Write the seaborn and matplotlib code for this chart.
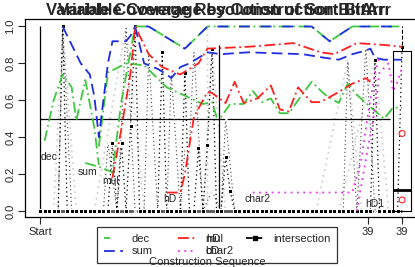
import numpy as np
import seaborn as sns
import matplotlib
matplotlib.use("Agg")
import matplotlib.pyplot as plt
from matplotlib.lines import Line2D
from matplotlib.legend_handler import HandlerTuple

# ---- data (sequence step, coverage value) ----
top_x = [21, 24, 32, 37, 60, 64, 69, 80]
top_v = [1.0, 1.0, 0.88, 1.0, 1.0, 0.92, 1.0, 1.0]

dec_a_x = [1, 3, 5, 7, 8, 10, 12, 13]
dec_a_v = [0.38, 0.6, 0.74, 0.67, 0.49, 0.71, 0.45, 0.25]
dec_b_x = [10, 13, 16, 18, 21]
dec_b_v = [0.26, 0.24, 0.21, 0.6, 1.0]
dec_c_x = [13, 15, 19, 23, 28, 36, 38, 39, 40, 42, 45, 47, 49, 51, 53, 55, 57, 60, 63, 66, 68, 70, 72, 76, 78, 80]
dec_c_v = [0.35, 0.75, 0.8, 0.79, 0.67, 0.58, 0.59, 0.51, 0.51, 0.58, 0.58, 0.65, 0.59, 0.61, 0.53, 0.53, 0.60,
           0.70, 0.63, 0.585, 0.69, 0.63, 0.585, 0.50, 0.56, 0.56]

sum_a_x = [5, 9, 11, 12, 13, 14, 15, 16, 19, 20, 21]
sum_a_v = [1.0, 0.8, 0.74, 0.62, 0.40, 0.6, 0.8, 0.92, 0.92, 0.95, 1.0]
sum_b_x = [21, 23, 26, 28, 29, 31, 33, 35, 37, 40, 46, 52, 58, 63, 66, 69, 72, 73, 74, 76, 80]
sum_b_v = [1.0, 0.80, 0.77, 0.74, 0.72, 0.78, 0.80, 0.83, 0.86, 0.85, 0.86, 0.855, 0.85, 0.83, 0.82, 0.85,
           0.87, 0.88, 0.83, 0.82, 0.82]

hd_a_x = [16, 18, 20, 21, 22, 24, 27, 31, 35, 37, 46, 56, 62, 65, 70, 76, 80]
hd_a_v = [0.18, 0.45, 0.75, 1.0, 0.95, 0.85, 0.78, 0.74, 0.8, 0.88, 0.89, 0.91, 0.86, 0.85, 0.91, 0.90, 0.89]
hd_b_x = [28, 31, 32, 34, 36, 37, 38, 41, 43, 45, 48, 51, 53, 55, 57, 60, 62, 66, 69, 72, 73]
hd_b_v = [0.1, 0.1, 0.2, 0.51, 0.6, 0.645, 0.64, 0.585, 0.70, 0.585, 0.61, 0.68, 0.55, 0.54, 0.67, 0.59, 0.59,
          0.645, 0.69, 0.72, 0.70]

bd_a_x = [47, 56, 63, 69, 71, 72, 74, 75]
bd_a_v = [0.1, 0.1, 0.1, 0.1, 0.28, 0.45, 0.75, 0.83]
bd_b_x = [70, 72, 74, 75, 77, 78, 79, 80]
bd_b_v = [0.0, 0.28, 0.55, 0.75, 0.8, 0.65, 0.7, 0.78]

steps = list(range(81))
inter_v = [0.0] * 81
for k, val in {5: 1.0, 16: 0.37, 18: 0.37, 20: 0.46, 21: 1.0, 27: 0.86, 32: 0.75, 35: 0.34,
               37: 0.36, 38: 0.88, 41: 0.29, 42: 0.11, 74: 0.82, 80: 0.89}.items():
    inter_v[k] = val

cross_x = [0, 2, 4, 5, 7, 9, 11, 14, 15, 17, 18, 19, 21, 23, 24, 26, 28, 29, 31, 32, 33, 34, 36, 38, 40, 41,
           43, 46, 50, 54, 58, 62, 66, 67, 68, 70, 72, 74, 77, 79]
cross_v = [0, 0, 0, 1.0, 0, 0, 0, 0, 0.37, 0, 0.455, 1.0, 0, 0, 0.86, 0, 0, 0.75, 0, 0.34, 0.35, 0.87, 0,
           0.11, 0, 0.5, 0, 0, 0, 0, 0, 0, 0, 0, 0.82, 0, 0.89, 0, 0, 0]

gray_x = [3, 5, 8, np.nan, 12, 19, 23, np.nan, 37, 37, np.nan, 36, 38, 41, np.nan, 66, 74, 77, np.nan, 61, 68, 71]
gray_v = [0, 1.0, 0, np.nan, 0, 1.0, 0, np.nan, 0, 1.0, np.nan, 0, 0.88, 0, np.nan, 0, 0.82, 0, np.nan, 0, 0.82, 0]

box_stats = [dict(whislo=0.0, q1=0.0, med=0.114, q3=0.867, whishi=1.0)]
box_marks = [0.42, 0.06]

labels = [("dec", 0.2, 0.29), ("sum", 8.4, 0.21), ("mul", 13.8, 0.16), ("hD", 27.3, 0.065),
          ("char2", 45.1, 0.065), ("hD1", 71.8, 0.038)]
tick_pos = [0, 72.4, 80]
tick_lab = ["Start", "39", "39"]
legend_labels = ["dec", "sum", "hD", "bD", "intersection"]
legend_overlay = {2: "mul", 3: "char2"}

# ---- plot ----
sns.set_style("ticks")
plt.rcParams['font.family'] = ['Liberation Sans', 'DejaVu Sans']

fig = plt.figure(figsize=(4.15, 2.67), dpi=100)
ax = fig.add_axes([0.0602, 0.1873, 0.945, 0.7416])

GREEN, BLUE, RED, MAG = "#3fc83f", "#1f2fe0", "#ff2020", "#ee33ee"
dashdot = (0, (6, 2, 1, 2))
dash = (0, (6, 3))
dot = (0, (1, 2.5))

ax.plot(gray_x, gray_v, color="#cccccc", lw=1.2, ls=dot, zorder=1)
ax.hlines(0, 0, 80, color="#555555", lw=2, zorder=1)
ax.hlines(0.5, 0, 77.3, color="black", lw=0.9)
ax.vlines(0, 0, 1.0, color="black", lw=0.9)
ax.vlines(39.5, 0, 0.9, color="black", lw=0.9)

sns.lineplot(x=cross_x, y=cross_v, sort=False, estimator=None, color="#444444", lw=0.8, linestyle=dot,
             marker="x", markersize=4, markeredgewidth=0.8, ax=ax)
sns.lineplot(x=steps, y=inter_v, sort=False, estimator=None, color="black", lw=0.9, linestyle=dot,
             marker="s", markersize=3.2, ax=ax)

for xs, vs in [(dec_a_x, dec_a_v), (dec_b_x, dec_b_v), (dec_c_x, dec_c_v), (top_x, top_v)]:
    sns.lineplot(x=xs, y=vs, sort=False, estimator=None, color=GREEN, lw=1.3, linestyle=dashdot, ax=ax)
for xs, vs in [(sum_a_x, sum_a_v), (sum_b_x, sum_b_v)]:
    sns.lineplot(x=xs, y=vs, sort=False, estimator=None, color=BLUE, lw=1.3, linestyle=dash, ax=ax)
sns.lineplot(x=top_x, y=top_v, sort=False, estimator=None, color=BLUE, lw=1.3, linestyle=(6, (6, 6)), ax=ax)
for xs, vs in [(hd_a_x, hd_a_v), (hd_b_x, hd_b_v)]:
    sns.lineplot(x=xs, y=vs, sort=False, estimator=None, color=RED, lw=1.3, linestyle=dashdot, ax=ax)
for xs, vs in [(bd_a_x, bd_a_v), (bd_b_x, bd_b_v)]:
    sns.lineplot(x=xs, y=vs, sort=False, estimator=None, color=MAG, lw=1.3, linestyle=dot, ax=ax)

ax.bxp(box_stats, positions=[80], widths=3.8, showfliers=False, showcaps=False, patch_artist=False,
       boxprops=dict(color="black", lw=0.8), medianprops=dict(color="black", lw=2),
       whiskerprops=dict(color="black", lw=0.8, ls="--"), manage_ticks=False)
ax.scatter([80] * len(box_marks), box_marks, s=18, facecolors="none", edgecolors=RED, lw=0.8, zorder=5)

for txt, x, y in labels:
    ax.text(x, y, txt, fontsize=7.5, ha="left", va="center")

ax.set_xlim(-3.33, 83.33)
ax.set_ylim(-0.0325, 1.0407)
ax.set_xticks(tick_pos)
ax.set_xticklabels(tick_lab, fontsize=8)
ax.set_yticks([0, 0.2, 0.4, 0.6, 0.8, 1.0])
ax.set_yticklabels(["0.0", "0.2", "0.4", "0.6", "0.8", "1.0"], fontsize=8, rotation=90, va="center")
ax.tick_params(direction="out", length=5, width=0.8, pad=2)
for s in ax.spines.values():
    s.set_linewidth(0.9)
    s.set_color("black")
ax.set_xlabel("")
ax.set_ylabel("")

# legend (a second set of labels is drawn over the first, as in the source)
dec_h = (Line2D([], [], color=GREEN, lw=1.3, ls=dashdot), Line2D([], [], color=BLUE, lw=1.3, ls=(6, (6, 6))))
handles = [dec_h, Line2D([], [], color=BLUE, lw=1.3, ls=dash),
           Line2D([], [], color=RED, lw=1.3, ls=dashdot), Line2D([], [], color=MAG, lw=1.3, ls=dot),
           Line2D([], [], color="black", lw=1.3, ls="--", marker="s", markersize=3.5)]
leg = fig.legend(handles, legend_labels, ncol=3, fontsize=8, frameon=True, fancybox=False,
                 edgecolor="black", handlelength=1.7, handletextpad=0.8, columnspacing=2.3,
                 borderpad=0.6, labelspacing=0.25, borderaxespad=0, loc="upper left",
                 bbox_to_anchor=(97 / 415, 1 - 227 / 267), bbox_transform=fig.transFigure,
                 handler_map={tuple: HandlerTuple(ndivide=None)})
leg.get_frame().set_linewidth(0.9)
fig.canvas.draw()
W, H = fig.bbox.width, fig.bbox.height
for idx, txt in legend_overlay.items():
    bb = leg.get_texts()[idx].get_window_extent()
    fig.text(bb.x0 / W, bb.y0 / H, txt, fontsize=8, ha="left", va="bottom", zorder=10)

fig.text(207 / 415, 1 - 262 / 267, "Construction Sequence", ha="center", va="center", fontsize=8, zorder=10)
fig.text(216 / 415, 1 - 11 / 267, "Variable Coverage Resolution of SortBitArr", ha="center", va="center",
         fontsize=12, fontweight="bold")
fig.text(224 / 415, 1 - 11 / 267, "Variable Coverage by Construction: BitArr", ha="center", va="center",
         fontsize=12, fontweight="bold")

fig.savefig("out.png", dpi=100)
